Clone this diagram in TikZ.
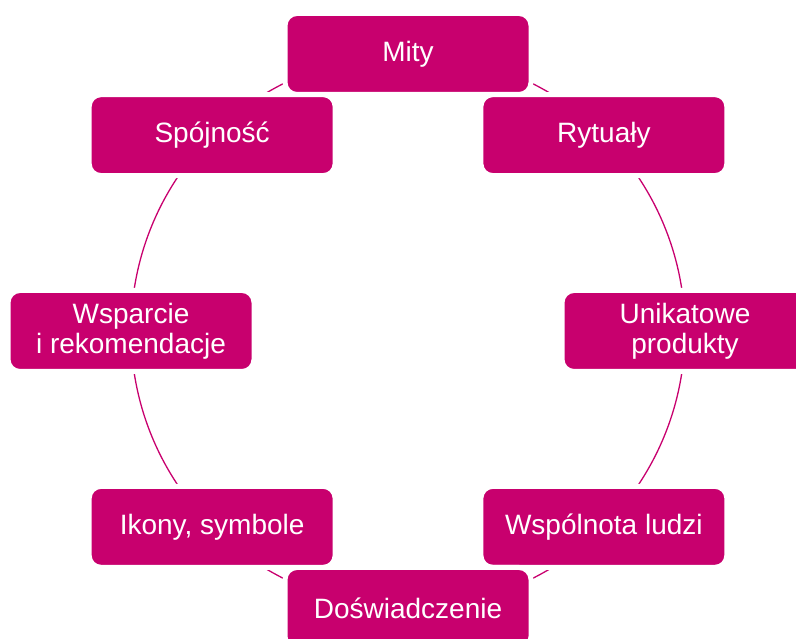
\documentclass[tikz,border=0pt]{standalone}
\usepackage{fontspec}
\setmainfont{Liberation Sans}
\usetikzlibrary{backgrounds}
\definecolor{brand}{HTML}{C8006E}
\tikzset{
  stagebox/.style={fill=brand, draw=white, line width=5pt, rounded corners=12pt,
    minimum width=246pt, minimum height=81pt, inner sep=0pt, text=white,
    align=center, font=\fontsize{28}{30}\selectfont},
  ringline/.style={draw=brand, line width=1.3pt}
}
\begin{document}
\begin{tikzpicture}[x=1pt, y=1pt]
  \useasboundingbox (0,0) rectangle (796,639);
  \clip (0,0) rectangle (796,639);
  \coordinate (o) at (408,308);
  \def\R{277}
  \node[stagebox] (mity)   at ([shift={(90:\R)}]o)   {Mity};
  \node[stagebox] (rytualy) at ([shift={(45:\R)}]o)  {Rytuały};
  \node[stagebox] (unik)   at ([shift={(0:\R)}]o)    {Unikatowe\\produkty};
  \node[stagebox] (wspol)  at ([shift={(-45:\R)}]o)  {Wspólnota ludzi};
  \node[stagebox] (dosw)   at ([shift={(-90:\R)}]o)  {Doświadczenie};
  \node[stagebox] (ikony)  at ([shift={(-135:\R)}]o) {Ikony, symbole};
  \node[stagebox] (wsp)    at ([shift={(180:\R)}]o)  {Wsparcie\\i rekomendacje};
  \node[stagebox] (spoj)   at ([shift={(135:\R)}]o)  {Spójność};
  \begin{scope}[on background layer]
    \draw[ringline] (mity.center)    arc[start angle=90,  end angle=45,   radius=\R];
    \draw[ringline] (rytualy.center) arc[start angle=45,  end angle=0,    radius=\R];
    \draw[ringline] (unik.center)    arc[start angle=0,   end angle=-45,  radius=\R];
    \draw[ringline] (wspol.center)   arc[start angle=-45, end angle=-90,  radius=\R];
    \draw[ringline] (dosw.center)    arc[start angle=-90, end angle=-135, radius=\R];
    \draw[ringline] (ikony.center)   arc[start angle=-135,end angle=-180, radius=\R];
    \draw[ringline] (wsp.center)     arc[start angle=180, end angle=135,  radius=\R];
    \draw[ringline] (spoj.center)    arc[start angle=135, end angle=90,   radius=\R];
  \end{scope}
\end{tikzpicture}
\end{document}
